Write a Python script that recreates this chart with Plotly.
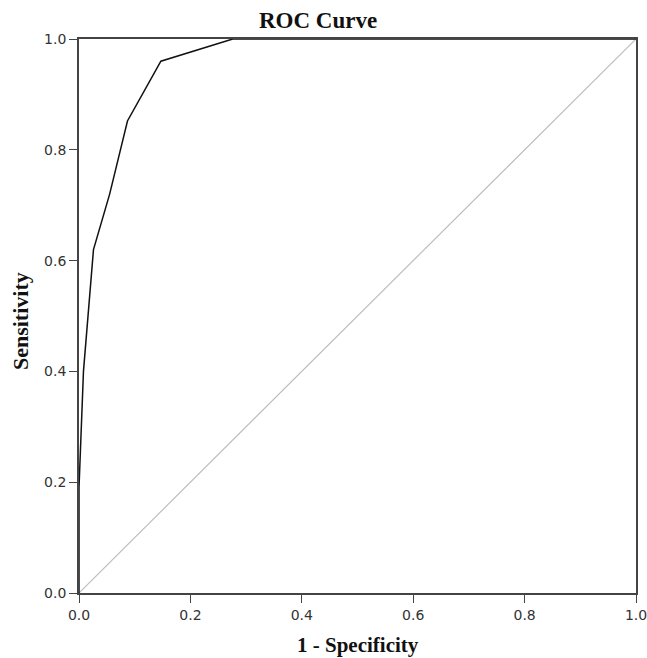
import plotly.graph_objects as go

# ROC curve coordinates (1 - specificity, sensitivity)
fpr = [0.0, 0.0, 0.008, 0.015, 0.026, 0.055, 0.087, 0.147, 0.276, 1.0]
tpr = [0.0, 0.19, 0.40, 0.48, 0.62, 0.72, 0.852, 0.96, 1.0, 1.0]

# reference diagonal
diag_x = [0.0, 1.0]
diag_y = [0.0, 1.0]

tick_vals = [0.0, 0.2, 0.4, 0.6, 0.8, 1.0]
tick_text = ["0.0", "0.2", "0.4", "0.6", "0.8", "1.0"]

serif_bold = "Liberation Serif"

fig = go.Figure()
fig.add_trace(go.Scatter(x=diag_x, y=diag_y, mode="lines",
                         line=dict(color="#bdbdbd", width=1.2),
                         showlegend=False, hoverinfo="skip"))
fig.add_trace(go.Scatter(x=fpr, y=tpr, mode="lines",
                         line=dict(color="#111111", width=1.5),
                         showlegend=False))

axis_common = dict(
    range=[0, 1], tickvals=tick_vals, ticktext=tick_text,
    showgrid=False, zeroline=False, automargin=False,
    ticklabeloverflow="allow",
    showline=True, linecolor="#444444", linewidth=1.8, mirror=True,
    ticks="outside", ticklen=8, tickwidth=1.4, tickcolor="#444444",
    tickfont=dict(family="DejaVu Sans", size=14, color="#333333"),
)
fig.update_xaxes(**axis_common)
fig.update_yaxes(**axis_common)

fig.update_layout(
    width=647, height=658,
    margin=dict(l=79, r=11, t=39, b=65),
    paper_bgcolor="white", plot_bgcolor="white",
    title=dict(text="ROC Curve", x=0.4915, xanchor="center",
               y=0.970, yanchor="middle",
               font=dict(family=serif_bold, size=23, color="#111111", weight="bold")),
    annotations=[
        dict(text="1 - Specificity", xref="paper", yref="paper",
             x=0.5, y=-0.093, xanchor="center", yanchor="middle", showarrow=False,
             font=dict(family=serif_bold, size=21, color="#111111", weight="bold")),
        dict(text="Sensitivity", xref="paper", yref="paper", textangle=-90,
             x=-0.105, y=0.49, xanchor="center", yanchor="middle", showarrow=False,
             font=dict(family=serif_bold, size=22, color="#111111", weight="bold")),
    ],
)

fig.write_html("out.html")
